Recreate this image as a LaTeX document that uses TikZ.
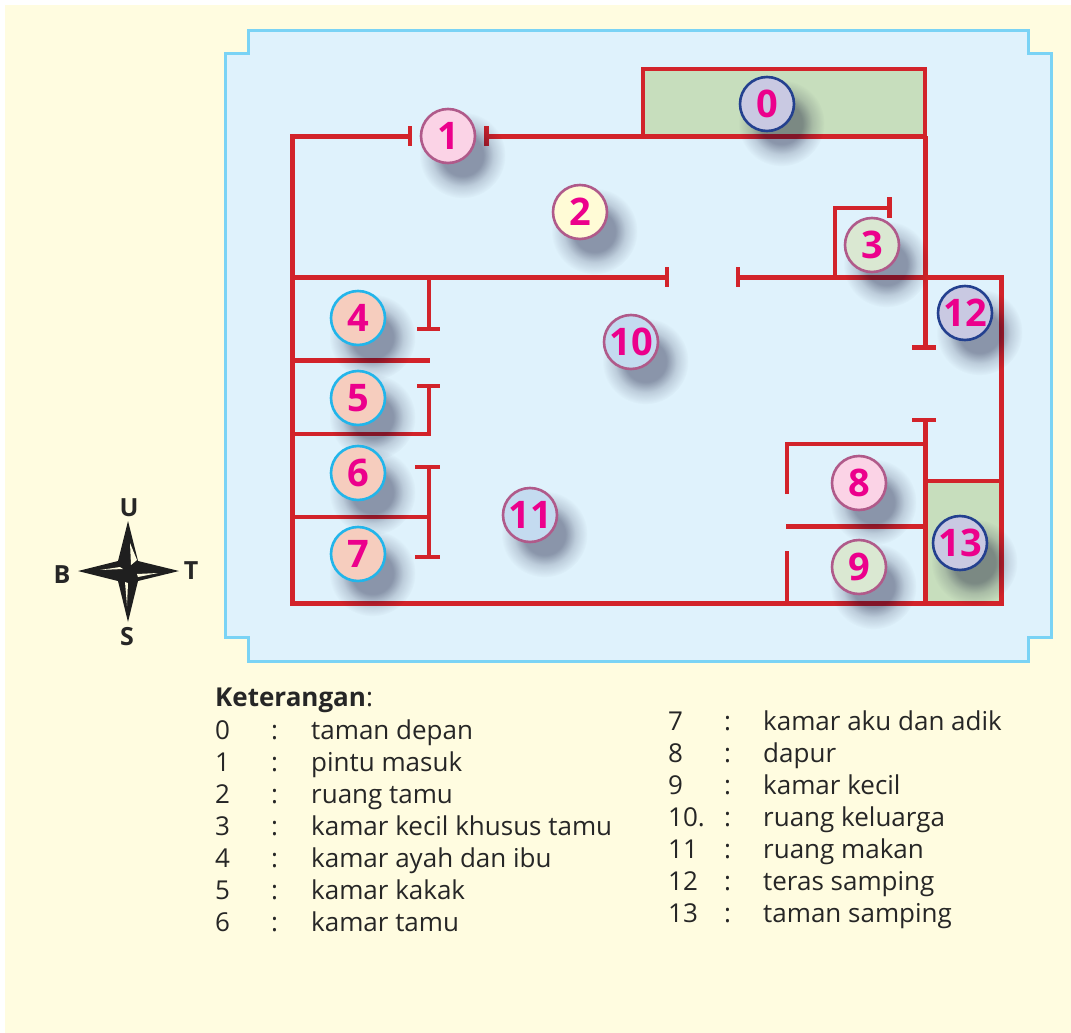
\documentclass[tikz,border=0pt]{standalone}
\usepackage{fontspec}
\setmainfont{Open Sans}
\usetikzlibrary{shadows,fadings}
\definecolor{pagecream}{RGB}{255,252,224}
\definecolor{panelblue}{RGB}{223,242,252}
\definecolor{panelline}{RGB}{122,211,245}
\definecolor{wallred}{RGB}{210,35,42}
\definecolor{gardengreen}{RGB}{199,222,189}
\definecolor{numpink}{RGB}{236,0,140}
\definecolor{ringmauve}{RGB}{176,90,138}
\definecolor{ringblue}{RGB}{35,64,143}
\definecolor{ringcyan}{RGB}{34,181,234}
\definecolor{fillpink}{RGB}{251,211,230}
\definecolor{fillyellow}{RGB}{255,251,214}
\definecolor{fillgreen}{RGB}{218,232,210}
\definecolor{fillpeach}{RGB}{246,205,190}
\definecolor{fillsky}{RGB}{196,219,240}
\definecolor{fillviolet}{RGB}{201,201,226}
\pgfdeclareradialshading{softshade}{\pgfpointorigin}{color(0bp)=(black!62); color(12bp)=(black!62); color(18bp)=(black!85); color(25bp)=(black); color(50bp)=(black)}
\pgfdeclarefading{softshadow}{\pgfuseshading{softshade}}
\tikzstyle{wall} = [line width=5pt, color=wallred, line cap=butt, line join=miter]
\tikzstyle{thinwall} = [line width=3.5pt, color=wallred, line join=miter]
\tikzstyle{roomnum} = [circle, minimum size=54pt, inner sep=0pt, line width=2.6pt, text=numpink, font=\fontsize{38}{38}\selectfont\bfseries, general shadow={shadow xshift=9pt, shadow yshift=-12pt, shadow scale=1.6, fill=black!85!blue, path fading=softshadow}]
\tikzstyle{roommauve} = [roomnum, draw=ringmauve]
\tikzstyle{roomblue} = [roomnum, draw=ringblue, fill=fillviolet]
\tikzstyle{roomcyan} = [roomnum, draw=ringcyan, fill=fillpeach]
\tikzstyle{compassletter} = [font=\fontsize{25}{25}\selectfont\bfseries, text=black!85]
\tikzstyle{legendtxt} = [anchor=base west, inner sep=0pt, font=\fontsize{26}{26}\selectfont, text=black!85]
\begin{document}
\begin{tikzpicture}[x=1pt, y=-1pt]
\useasboundingbox (0,0) rectangle (1071,1033);
\fill[white] (0,0) rectangle (1071,1033);
\fill[pagecream] (5,5) rectangle (1071,1033);

% Panel with stepped corners
\draw[line width=3pt, color=panelline, fill=panelblue, line join=miter] (248,31) -- (1028,31) -- (1028,54) -- (1051,54) -- (1051,637) -- (1028,637) -- (1028,661) -- (248,661) -- (248,637) -- (225,637) -- (225,54) -- (248,54) -- cycle;

% Gardens
\draw[thinwall, fill=gardengreen] (643,69) rectangle (925,136);
\draw[thinwall, fill=gardengreen] (925,481) rectangle (1001,603);

% Outer walls
\draw[wall] (410,136) -- (292,136) -- (292,603) -- (1001,603) -- (1001,277) -- (738,277);
\draw[wall] (486,136) -- (925,136);
\draw[wall] (925,136) -- (925,347);
\draw[wall] (912,347) -- (936,347);
\draw[thinwall] (410,126) -- (410,146);
\draw[wall] (486,126) -- (486,146);

% Middle wall
\draw[wall] (292,277) -- (667,277);
\draw[thinwall] (667,267) -- (667,287);
\draw[thinwall] (738,267) -- (738,287);

% Small room at the top right
\draw[thinwall] (835,277) -- (835,208) -- (889,208);
\draw[wall] (889,197) -- (889,218);

% Rooms on the left
\draw[thinwall] (429,277) -- (429,329);
\draw[thinwall] (417,329) -- (440,329);
\draw[wall] (292,360) -- (430,360);
\draw[thinwall] (292,434) -- (429,434) -- (429,386);
\draw[thinwall] (417,386) -- (440,386);
\draw[thinwall] (292,517) -- (429,517);
\draw[thinwall] (429,467) -- (429,557);
\draw[thinwall] (415,467) -- (440,467);
\draw[thinwall] (415,557) -- (440,557);

% Rooms at the bottom right
\draw[wall] (925,420) -- (925,603);
\draw[thinwall] (912,420) -- (936,420);
\draw[thinwall] (787,494) -- (787,444) -- (925,444);
\draw[wall] (786,526) -- (925,526);
\draw[thinwall] (787,551) -- (787,603);

% Room numbers
\node[roomblue] at (767,104) (num0) {0};
\node[roommauve, fill=fillpink] at (448,136) (num1) {1};
\node[roommauve, fill=fillyellow] at (580,212) (num2) {2};
\node[roommauve, fill=fillgreen] at (872,245) (num3) {3};
\node[roomcyan] at (358,318) (num4) {4};
\node[roomcyan] at (358,398) (num5) {5};
\node[roomcyan] at (358,473) (num6) {6};
\node[roomcyan] at (358,554) (num7) {7};
\node[roommauve, fill=fillpink] at (859,483) (num8) {8};
\node[roommauve, fill=fillgreen] at (859,567) (num9) {9};
\node[roommauve, fill=fillsky] at (631,342) (num10) {10};
\node[roommauve, fill=fillsky] at (530,515) (num11) {11};
\node[roomblue] at (965,313) (num12) {12};
\node[roomblue] at (960,543) (num13) {13};

% Compass
\fill[black!88] (128,521) -- (138,561) -- (179,571) -- (138,581) -- (128,622) -- (118,581) -- (78,571) -- (118,561) -- cycle;
\fill[pagecream] (130,543) -- (137,560) -- (131,565) -- cycle;
\fill[pagecream] (100,570) -- (120,567) -- (123,569) -- cycle;
\fill[pagecream] (138,577) -- (158,573) -- (137,574) -- cycle;
\fill[pagecream] (125,582) -- (128,583) -- (127,606) -- cycle;
\node[compassletter] at (129,508) (north) {U};
\node[compassletter] at (62,575) (west) {B};
\node[compassletter] at (191,571) (east) {T};
\node[compassletter] at (127,637) (south) {S};

% Legend
\node[legendtxt] at (215,706) (legendhead) {\textbf{Keterangan}:};
\foreach \idx/\ypos/\desc in {0/739/taman depan, 1/771/pintu masuk, 2/803/ruang tamu, 3/835/kamar kecil khusus tamu, 4/867/kamar ayah dan ibu, 5/899/kamar kakak, 6/931/kamar tamu} {
  \node[legendtxt] at (215,\ypos) (numl\idx) {\idx};
  \node[legendtxt] at (271,\ypos) (coll\idx) {:};
  \node[legendtxt] at (311,\ypos) (txtl\idx) {\desc};
}
\foreach \idx/\ypos/\desc in {7/730/kamar aku dan adik, 8/762/dapur, 9/794/kamar kecil, 10./826/ruang keluarga, 11/858/ruang makan, 12/890/teras samping, 13/922/taman samping} {
  \node[legendtxt] at (668,\ypos) (numr\idx) {\idx};
  \node[legendtxt] at (724,\ypos) (colr\idx) {:};
  \node[legendtxt] at (763,\ypos) (txtr\idx) {\desc};
}
\end{tikzpicture}
\end{document}
